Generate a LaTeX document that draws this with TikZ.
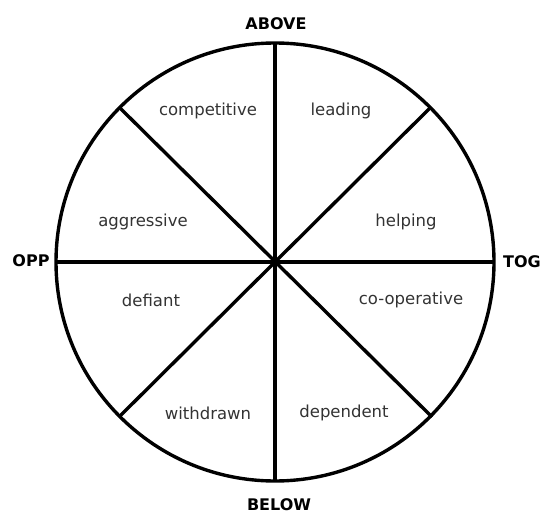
\documentclass[tikz,border=0pt]{standalone}
\usepackage{fontspec}
\usetikzlibrary{calc}
\setmainfont{DejaVu Sans}
\begin{document}
\begin{tikzpicture}[x=1pt,y=-1pt,
  ring/.style={line width=3.4pt},
  spoke/.style={line width=3.4pt},
  sector/.style={font=\fontsize{16.5}{18}\selectfont, text=black!80, inner sep=0pt},
  pole/.style={font=\bfseries\fontsize{16}{18}\selectfont, inner sep=0pt}]
\useasboundingbox (0,0) rectangle (543,516);
\coordinate (c) at (275,262);
\node[circle, draw, ring, minimum size=438pt, inner sep=0pt] (wheel) at (c) {};
\coordinate (n) at (275,44);
\coordinate (s) at (275,482);
\coordinate (w) at (56,262);
\coordinate (e) at (494,262);
\coordinate (nw) at ($(c)+(-155,-154)$);
\coordinate (ne) at ($(c)+(155,-154)$);
\coordinate (sw) at ($(c)+(-156,155)$);
\coordinate (se) at ($(c)+(157,155)$);
\draw[spoke] (n) -- (s);
\draw[spoke] (w) -- (e);
\draw[spoke] (nw) -- (se);
\draw[spoke] (ne) -- (sw);
\node[pole] (above) at (276,24) {ABOVE};
\node[pole] (below) at (279,505) {BELOW};
\node[pole] (opp) at (31,261) {OPP};
\node[pole] (tog) at (522,262) {TOG};
\node[sector] (competitive) at (208,111) {competitive};
\node[sector] (leading) at (341,111) {leading};
\node[sector] (aggressive) at (143,222) {aggressive};
\node[sector] (helping) at (406,222) {helping};
\node[sector] (defiant) at (151,300) {defiant};
\node[sector] (cooperative) at (411,300) {co-operative};
\node[sector] (withdrawn) at (208,413) {withdrawn};
\node[sector] (dependent) at (344,413) {dependent};
\end{tikzpicture}
\end{document}
